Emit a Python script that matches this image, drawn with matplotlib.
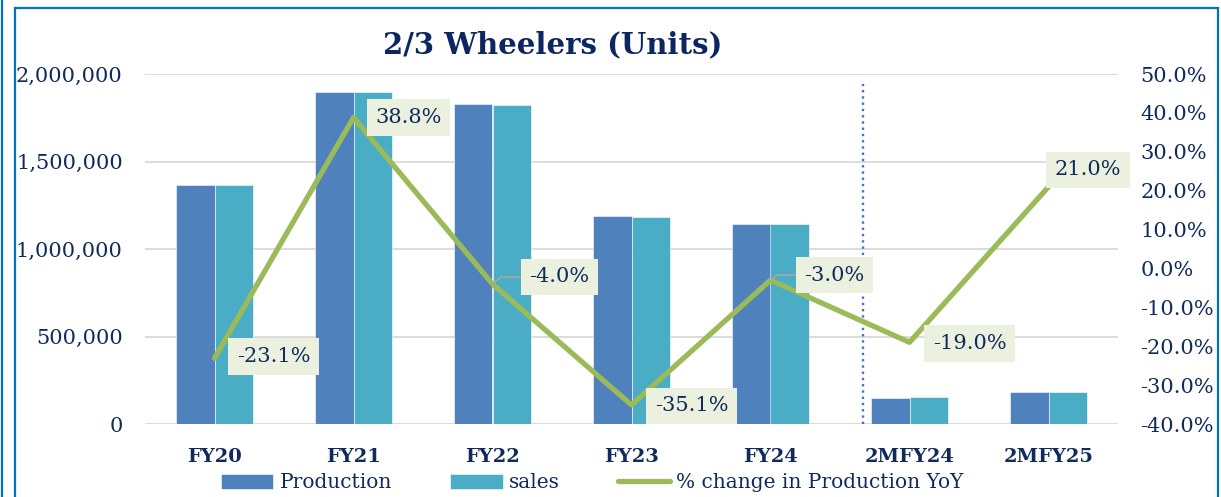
import numpy as np
import matplotlib
matplotlib.use('Agg')
import matplotlib.pyplot as plt
from matplotlib.lines import Line2D
from matplotlib.patches import Rectangle
from matplotlib.ticker import FuncFormatter

# data
categories = ['FY20', 'FY21', 'FY22', 'FY23', 'FY24', '2MFY24', '2MFY25']
production = [1366000, 1899000, 1828000, 1188000, 1143000, 150000, 183000]
sales = [1366000, 1899000, 1823000, 1184000, 1143000, 156000, 182000]
pct_change = [-23.1, 38.8, -4.0, -35.1, -3.0, -19.0, 21.0]
# label offsets in pixels (dx, dy) from each line point
label_offsets = [(59, 2), (55, 0), (67, 7), (60, -1), (64, 5), (60, -1), (39, 17)]
leader = [False, False, True, False, True, False, False]

navy = '#102A5C'
c_prod = '#4F81BD'
c_sales = '#4BACC6'
c_line = '#9BBB59'
font = 'DejaVu Serif'

plt.rcParams['font.family'] = font

fig = plt.figure(figsize=(12.21, 4.97), dpi=100)
ax = fig.add_axes([145/1221, 1-424/497, (1118-145)/1221, (424-74)/497])
ax2 = ax.twinx()

x = np.arange(len(categories))
w = 0.28
ax.bar(x - w/2, production, w, color=c_prod, edgecolor='white', linewidth=0.4, label='Production', zorder=2)
ax.bar(x + w/2, sales, w, color=c_sales, edgecolor='white', linewidth=0.4, label='sales', zorder=2)

ax.set_xlim(-0.5, len(categories) - 0.5)
ax.set_ylim(0, 2000000)
ax.set_yticks(np.arange(0, 2000001, 500000))
ax.yaxis.set_major_formatter(FuncFormatter(lambda v, p: f'{int(v):,}'))
ax.grid(axis='y', color='#D9D9D9', linewidth=1.3, zorder=0)
ax.set_axisbelow(True)
for s in ax.spines.values():
    s.set_visible(False)
for s in ax2.spines.values():
    s.set_visible(False)
ax.tick_params(axis='y', length=0, pad=16, labelsize=15, labelcolor=navy)
ax.tick_params(axis='x', length=0, pad=17, labelcolor=navy)
ax.set_xticks(x)
ax.set_xticklabels(categories, fontsize=14, fontweight='bold')

# divider between full years and 2M figures
ax.axvline(4.665, ymin=0, ymax=0.971, color='#4472C4', linestyle=':', linewidth=1.7, zorder=6)

ax2.plot(x, pct_change, color=c_line, linewidth=3.8, solid_capstyle='round', zorder=3,
         label='% change in Production YoY')
ax2.set_ylim(-40, 50)
ax2.set_yticks(np.arange(-40, 51, 10))
ax2.yaxis.set_major_formatter(FuncFormatter(lambda v, p: f'{v:.1f}%'))
ax2.tick_params(axis='y', length=0, pad=16, labelsize=15, labelcolor=navy)

for xi, v, (dx, dy), ld in zip(x, pct_change, label_offsets, leader):
    arrow = None
    if ld:
        arrow = dict(arrowstyle='-', color='#A6A6A6', linewidth=1.2, shrinkA=0, shrinkB=0,
                     connectionstyle='angle,angleA=0,angleB=40,rad=0')
    ax2.annotate(f'{v:.1f}%', (xi, v), xytext=(dx, dy), textcoords='offset pixels',
                 ha='center', va='center', fontsize=15, color=navy, zorder=5,
                 bbox=dict(boxstyle='square,pad=0.42', fc='#EBF1DE', ec='none'),
                 arrowprops=arrow)

fig.text(553/1221, 1-45/497, '2/3 Wheelers (Units)', ha='center', va='center',
         fontsize=21, fontweight='bold', color='#0C2660')

h1, l1 = ax.get_legend_handles_labels()
h2, l2 = ax2.get_legend_handles_labels()
leg = fig.legend(h1 + h2, l1 + l2, loc='center left', bbox_to_anchor=(221/1221, 14/497),
                 ncol=3, frameon=False, fontsize=14.5, handlelength=2.6, handletextpad=0.3,
                 columnspacing=2.9, borderpad=0, borderaxespad=0)
for t in leg.get_texts():
    t.set_color(navy)

# chart frame
fig.add_artist(Rectangle((15/1221, -0.05), (1218-15)/1221, 1.05 - 8/497, transform=fig.transFigure,
                         fill=False, edgecolor='#0070C0', linewidth=1.6))
fig.add_artist(Line2D([1.5/1221, 1.5/1221], [0, 1], transform=fig.transFigure,
                      color='#0070C0', linewidth=1.6))

fig.savefig('out.png', dpi=100)
